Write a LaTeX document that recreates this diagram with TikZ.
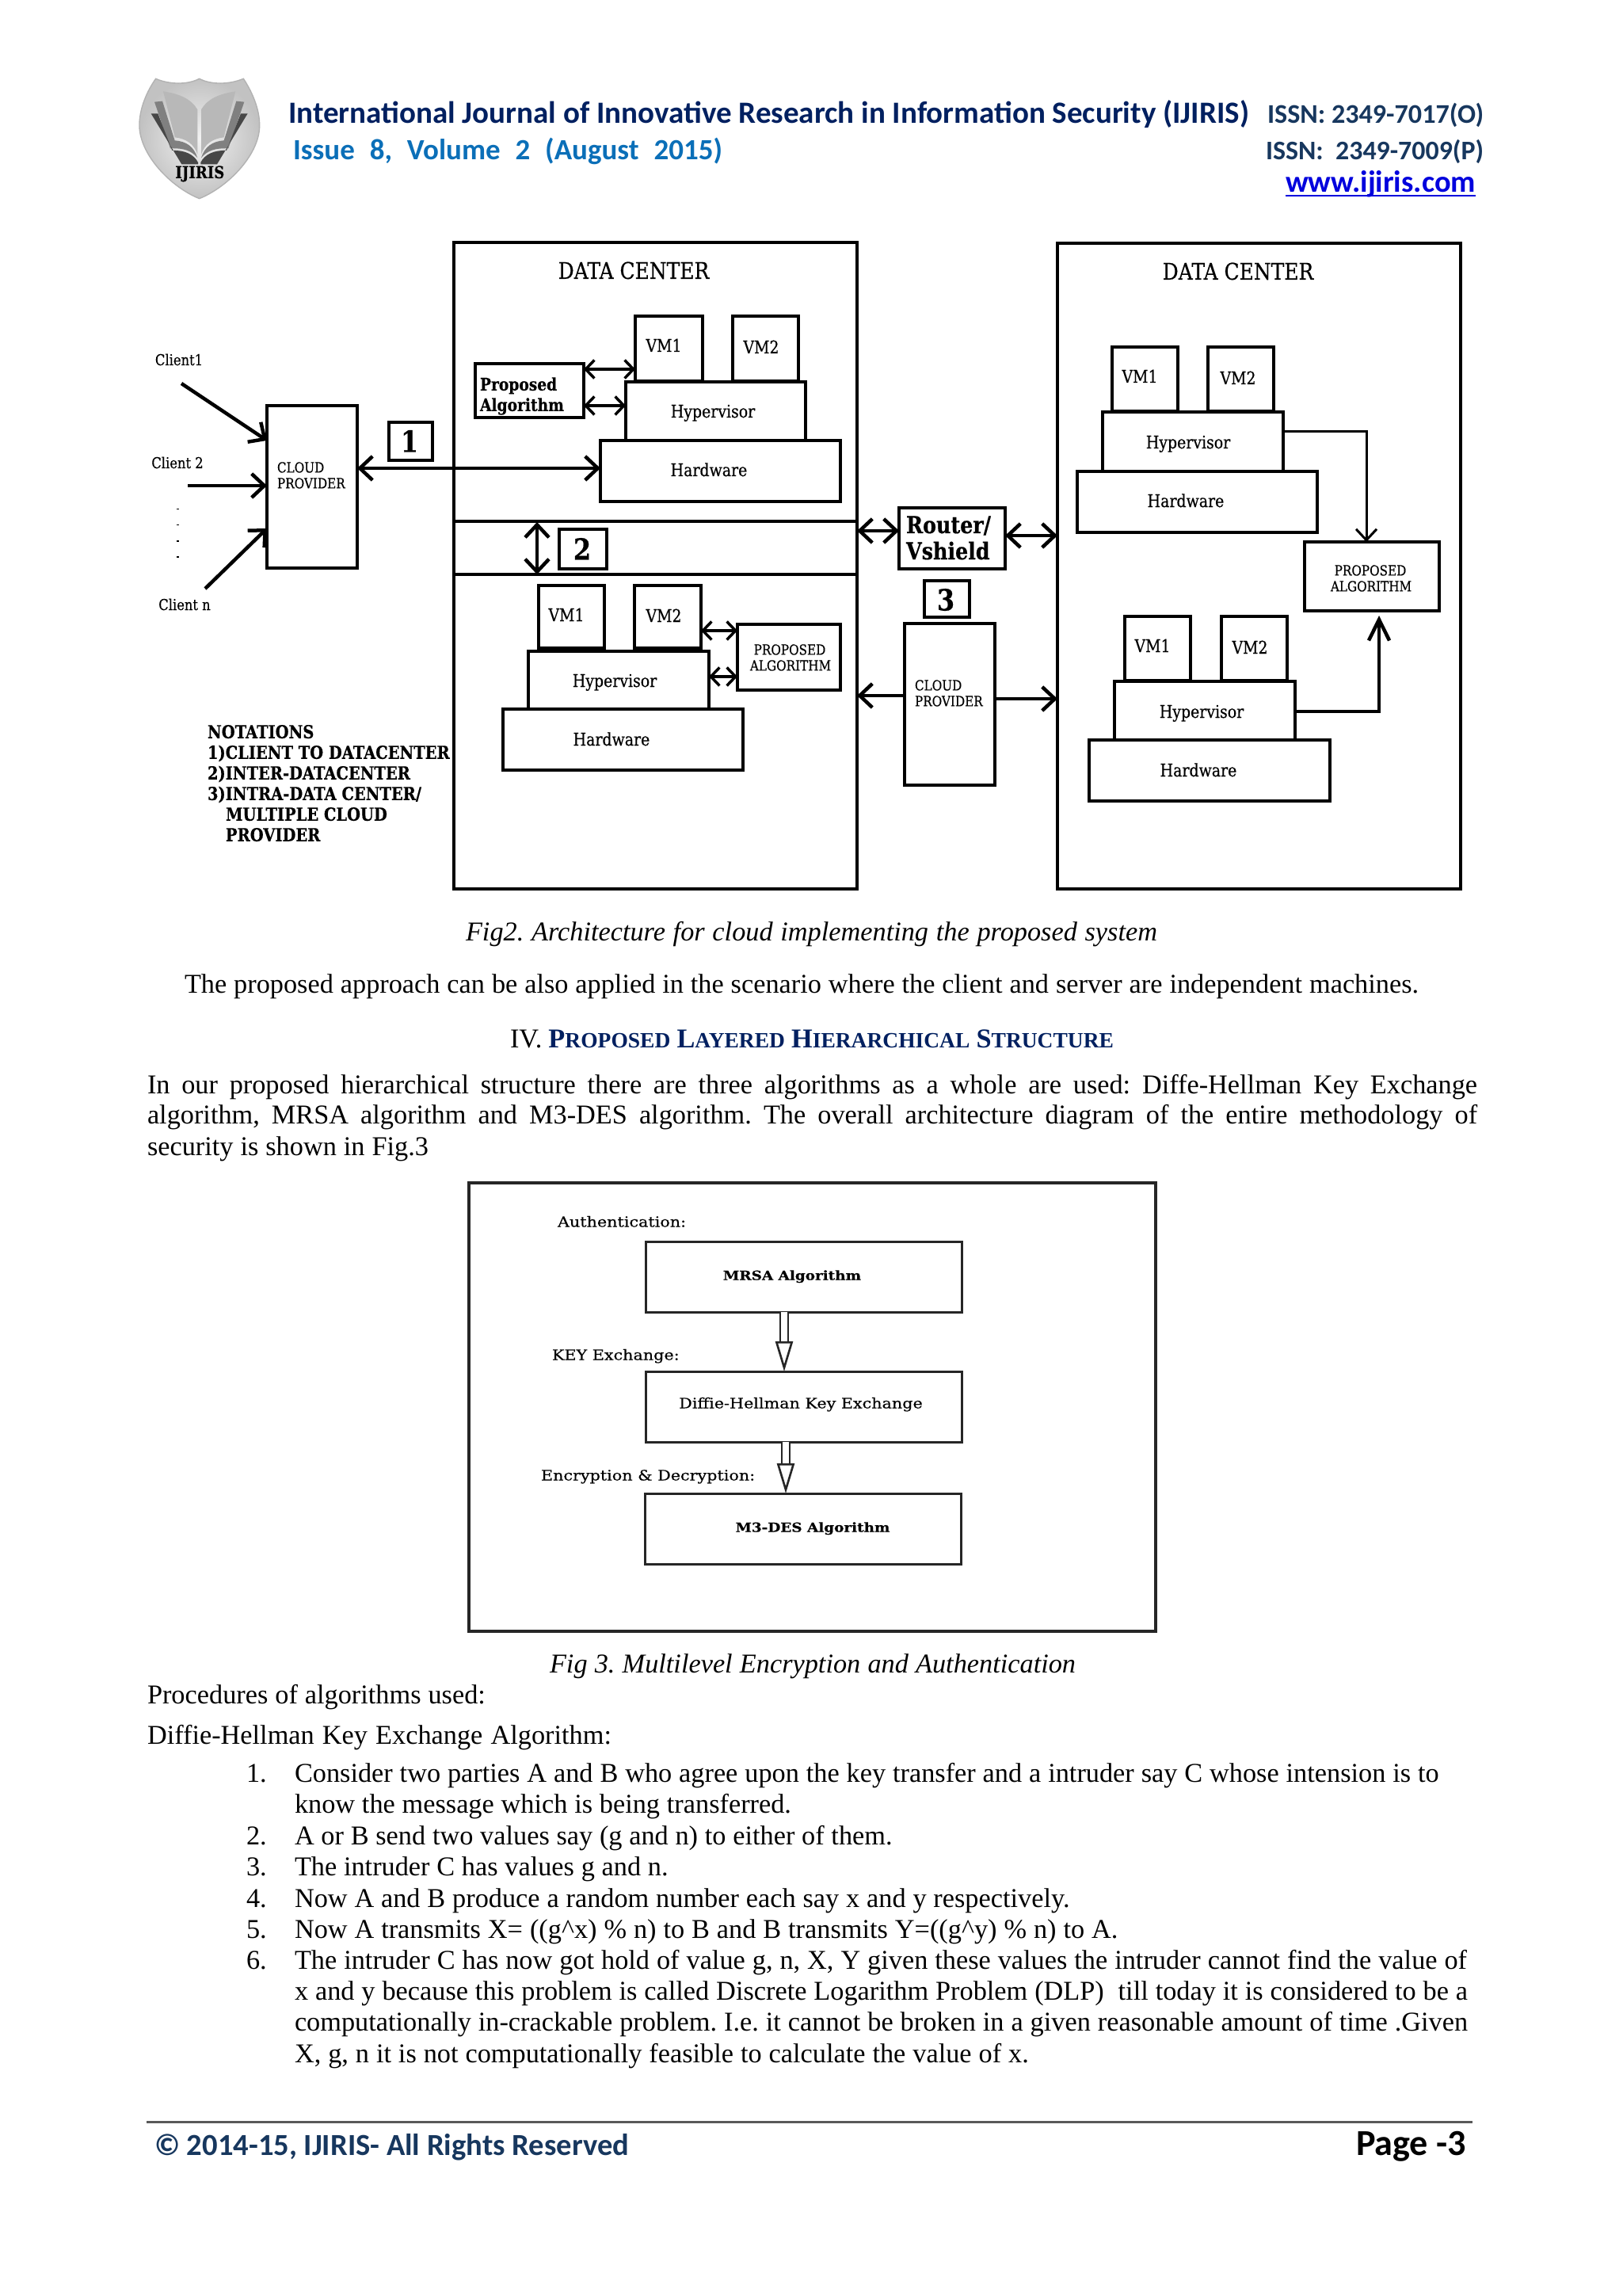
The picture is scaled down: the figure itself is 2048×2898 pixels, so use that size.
\documentclass[tikz,border=0pt]{standalone}
\usepackage{fontspec}
\usepackage{graphicx}
\usetikzlibrary{arrows.meta,calc}
\setmainfont{Liberation Serif}
\newfontfamily\slab[FakeStretch=0.86,FakeBold=0.4]{DejaVu Serif}
\newfontfamily\slabw[FakeStretch=1.15,FakeBold=0.4]{DejaVu Serif}
\newfontfamily\carl{Carlito}
\newlength\uu \setlength\uu{0.36pt}
\newcounter{tl}
\newcommand\fpx[1]{\fontsize{#1\uu}{#1\uu}\selectfont}
\definecolor{headnavy}{HTML}{002060}
\definecolor{issn}{HTML}{17375E}
\definecolor{issue}{HTML}{0B6FB8}
\definecolor{webblue}{HTML}{0000DD}
\tikzset{
  txt/.style={inner sep=0pt,outer sep=0pt,anchor=base west},
  bodyt/.style={txt,font=\frenchspacing\fpx{34.3}},
  boxa/.style={draw=black,line width=4\uu,minimum width=10pt,inner sep=0pt,outer sep=0pt,fill=white},
  boxb/.style={draw=black,line width=3.5\uu,inner sep=0pt,outer sep=0pt},
  figb/.style={draw=black!85,line width=3\uu,inner sep=0pt,outer sep=0pt},
  lab/.style={inner sep=0pt,outer sep=0pt,anchor=base,font=\slab\fpx{22},yshift=-8\uu},
  labt/.style={inner sep=0pt,outer sep=0pt,anchor=base,font=\slab\fpx{29},yshift=-10\uu},
  labcl/.style={inner sep=0pt,outer sep=0pt,anchor=base,font=\slab\fpx{19},yshift=-7\uu},
  labs/.style={inner sep=0pt,outer sep=0pt,anchor=base west,font=\slab\fpx{17.7},yshift=-6.4\uu},
  labc/.style={inner sep=0pt,outer sep=0pt,anchor=base,font=\slab\fpx{17.7},yshift=-6.4\uu},
  labb/.style={inner sep=0pt,outer sep=0pt,anchor=base west,font=\slab\bfseries\fpx{21.7},yshift=-7.8\uu},
  labn/.style={inner sep=0pt,outer sep=0pt,anchor=base west,font=\slab\bfseries\fpx{22.6},yshift=-7.8\uu},
  labr/.style={inner sep=0pt,outer sep=0pt,anchor=base west,font=\slab\bfseries\fpx{29.5},yshift=-10\uu},
  numb/.style={inner sep=0pt,outer sep=0pt,anchor=base,font=\slab\bfseries\fpx{37},yshift=-13.5\uu},
  labf/.style={inner sep=0pt,outer sep=0pt,anchor=base west,font=\slabw\fpx{18},yshift=-6.5\uu},
  big/.style={line width=4.5\uu,{Straight Barb[length=5.76pt,width=10.8pt]}-{Straight Barb[length=5.76pt,width=10.8pt]}},
  bigr/.style={line width=4.5\uu,-{Straight Barb[length=5.76pt,width=10.8pt]}},
  tallr/.style={line width=4.5\uu,-{Straight Barb[length=9.5pt,width=9.4pt]}},
  small/.style={line width=3.5\uu,{Straight Barb[length=3.96pt,width=8.28pt]}-{Straight Barb[length=3.96pt,width=8.28pt]}},
  thinr/.style={line width=3\uu,-{Straight Barb[length=5.04pt,width=9.36pt]}},
  openar/.style={line width=2.6\uu,draw=black!85,double,double distance=7.5\uu,-{Triangle[open,fill=white,length=13.68pt,width=7.92pt,line width=0.94pt]}},
}
\newcommand\bx[6]{\node[#1,minimum width={(#5-#3)*0.36pt},minimum height={(#6-#4)*0.36pt}] (#2) at ({(#3+#5)/2},{(#4+#6)/2}) {};}
\newcommand\tl[4]{\stepcounter{tl}\node[bodyt] (t\arabic{tl}) at (#1,#2+10) {\makebox[#3\uu][s]{#4}};}
\newcommand\smc[1]{{\fpx{27.5}#1}}
\begin{document}
\begin{tikzpicture}[x=0.36pt,y=-0.36pt]
\useasboundingbox (0,0) rectangle (2048,2898);
\fill[white] (0,0) rectangle (2048,2898);

% ---------- logo
\begin{scope}[shift={(170,90)},x=0.12pt,y=-0.12pt]
\path[draw=black!30,line width=0.5pt,inner color=black!5,outer color=black!24]
  (80,28) .. controls (130,50) and (200,52) .. (245,28) .. controls (290,52) and (360,50) .. (412,28)
  .. controls (440,70) and (475,140) .. (473,210) .. controls (470,320) and (350,440) .. (245,482)
  .. controls (140,440) and (22,320) .. (18,210) .. controls (16,140) and (50,70) .. (80,28) -- cycle;
\foreach \s/\o in {1/0,-1/490}{
\begin{scope}[shift={(\o,0)},xscale=\s]
 \fill[black!28] (108,76) .. controls (170,85) and (215,105) .. (238,145) -- (238,315) .. controls (225,275) and (195,255) .. (152,250) -- cycle;
 \fill[black!50] (75,116) -- (105,113) -- (152,262) .. controls (195,265) and (225,285) .. (238,328) .. controls (215,300) and (185,290) .. (135,292) -- cycle;
 \fill[black!72] (62,160) -- (88,160) -- (142,300) .. controls (190,298) and (225,315) .. (240,345) -- (240,352) -- (178,352) -- cycle;
\end{scope}}
\node[inner sep=0pt,font=\slab\bfseries\fpx{21}] (logotext) at (247,388) {IJIRIS};
\end{scope}

% ---------- header
\node[txt] (h1) at (364,156) {\resizebox{1213\uu}{!}{\carl\bfseries\color{headnavy}International Journal of Innovative Research in Information Security (IJIRIS)}};
\node[txt] (h2) at (370,202) {\color{issue}\carl\bfseries\fpx{37}\makebox[542\uu][s]{Issue\ \ 8,\ \ Volume\ \ 2\ \ (August\ \ 2015)}};
\node[txt] (h3) at (1600,156) {\resizebox{273\uu}{!}{\carl\bfseries\color{issn}ISSN: 2349-7017(O)}};
\node[txt] (h4) at (1598,202) {\resizebox{275\uu}{!}{\carl\bfseries\color{issn}ISSN:\ \ 2349-7009(P)}};
\node[txt] (h5) at (1623,243) {\resizebox{240\uu}{!}{\carl\bfseries\color{webblue}www.ijiris.com}};
\draw[webblue,line width=2.5\uu] (h5.west |- 0,247) -- (h5.east |- 0,247);

% ---------- figure 2: left
\bx{boxa}{dcl}{573}{306}{1082}{1122}
\draw[boxa,fill=none] (dcl.west |- 0,658) -- (dcl.east |- 0,658);
\draw[boxa,fill=none] (dcl.west |- 0,725) -- (dcl.east |- 0,725);
\node[labt] (dct1) at (800,342) {DATA CENTER};
\bx{boxb}{pa}{600}{459}{737}{527}
\bx{boxa}{avm1}{802}{399}{887}{481}
\bx{boxa}{avm2}{925}{399}{1008}{481}
\bx{boxa}{ahy}{790}{482}{1017}{557}
\bx{boxa}{ahw}{758}{556}{1061}{633}
\node[lab] (l1) at (838,436) {VM1};
\node[lab] (l2) at (961,438) {VM2};
\node[lab] (l3) at (900,519) {Hypervisor};
\node[lab] (l4) at (895,593) {Hardware};
\node[labb] (l5) at (606,485) {Proposed};
\node[labb] (l6) at (606,511) {Algorithm};
\bx{boxa}{bvm1}{680}{739}{763}{818}
\bx{boxa}{bvm2}{801}{739}{885}{818}
\bx{boxa}{bhy}{667}{822}{895}{896}
\bx{boxa}{bhw}{635}{895}{938}{972}
\bx{boxa}{bp}{931}{788}{1061}{871}
\node[lab] (l7) at (715,776) {VM1};
\node[lab] (l8) at (838,777) {VM2};
\node[lab] (l9) at (776,859) {Hypervisor};
\node[lab] (l10) at (772,933) {Hardware};
\node[labc] (l11) at (997,820) {PROPOSED};
\node[labc] (l12) at (998,840) {ALGORITHM};
% clients
\bx{boxa}{cp}{337}{512}{451}{717}
\node[labs] (l13) at (350,590) {CLOUD};
\node[labs] (l14) at (350,610) {PROVIDER};
\node[labcl] (c1) at (226,454) {Client1};
\node[labcl] (c2) at (224,584) {Client 2};
\node[labcl] (c3) at (233,763) {Client n};
\coordinate (c1s) at (229,484);
\coordinate (c2s) at (237,613);
\coordinate (c3s) at (259,743);
\draw[bigr] (c1s) -- (cp.west |- 0,556);
\draw[bigr] (c2s) -- (cp.west |- 0,613);
\draw[bigr] (c3s) -- (cp.west |- 0,667);
\foreach \y in {642,662,682,702} \fill[black] (223,\y) rectangle (226,\y+1.5);
\bx{boxa}{n1}{491}{533}{546}{581}
\bx{boxa}{n2}{706}{668}{766}{718}
\node[numb] (n1t) at (517,557) {1};
\node[numb] (n2t) at (735,693) {2};
\draw[big] (cp.east |- 0,591) -- (ahw.west |- 0,591);
\draw[big] (678,659) -- (678,725);
\draw[small] (pa.east |- 0,466) -- (avm1.west |- 0,466);
\draw[small] (pa.east |- 0,512) -- (ahy.west |- 0,512);
\draw[small] (bvm2.east |- 0,796) -- (bp.west |- 0,796);
\draw[small] (bhy.east |- 0,854) -- (bp.west |- 0,854);
% notations
\node[labn] (no1) at (262,924) {NOTATIONS};
\node[labn] (no2) at (262,950) {1)CLIENT TO DATACENTER};
\node[labn] (no3) at (262,976) {2)INTER-DATACENTER};
\node[labn] (no4) at (262,1002) {3)INTRA-DATA CENTER/};
\node[labn] (no5) at (285,1028) {MULTIPLE CLOUD};
\node[labn] (no6) at (285,1054) {PROVIDER};

% ---------- figure 2: middle
\bx{boxa}{ro}{1135}{641}{1269}{718}
\node[labr] (r1) at (1144,663) {Router/};
\node[labr] (r2) at (1144,696) {Vshield};
\bx{boxa}{n3}{1167}{733}{1224}{779}
\node[numb] (n3t) at (1194,757) {3};
\bx{boxa}{cq}{1142}{787}{1256}{991}
\node[labs] (l15) at (1155,865) {CLOUD};
\node[labs] (l16) at (1155,885) {PROVIDER};

% ---------- figure 2: right
\bx{boxa}{dcr}{1335}{307}{1844}{1122}
\node[labt] (dct2) at (1563,343) {DATA CENTER};
\bx{boxa}{cvm1}{1404}{438}{1487}{519}
\bx{boxa}{cvm2}{1525}{438}{1608}{519}
\bx{boxa}{chy}{1392}{520}{1620}{597}
\bx{boxa}{chw}{1360}{595}{1663}{672}
\node[lab] (l17) at (1439,475) {VM1};
\node[lab] (l18) at (1563,477) {VM2};
\node[lab] (l19) at (1500,558) {Hypervisor};
\node[lab] (l20) at (1497,632) {Hardware};
\bx{boxa}{rp}{1647}{684}{1817}{771}
\node[labc] (l21) at (1730,720) {PROPOSED};
\node[labc] (l22) at (1731,740) {ALGORITHM};
\bx{boxa}{dvm1}{1420}{778}{1503}{859}
\bx{boxa}{dvm2}{1542}{778}{1625}{859}
\bx{boxa}{dhy}{1407}{860}{1635}{936}
\bx{boxa}{dhw}{1375}{934}{1679}{1011}
\node[lab] (l23) at (1455,815) {VM1};
\node[lab] (l24) at (1578,817) {VM2};
\node[lab] (l25) at (1517,898) {Hypervisor};
\node[lab] (l26) at (1513,972) {Hardware};
\draw[thinr] (chy.east |- 0,545) -| (rp.north -| 1725,0);
\draw[tallr,shorten >=6\uu] (dhy.east |- 0,898) -| (rp.south -| 1741,0);
\draw[big] (dcl.east |- 0,670) -- (ro.west |- 0,670);
\draw[big] (ro.east |- 0,676) -- (dcr.west |- 0,676);
\draw[bigr] (cq.west |- 0,878) -- (dcl.east |- 0,878);
\draw[bigr] (cq.east |- 0,882) -- (dcr.west |- 0,882);

% ---------- text between figures
\tl{588}{1177}{873}{\itshape Fig2. Architecture for cloud implementing the proposed system}
\tl{233}{1243}{1558}{The proposed approach can be also applied in the scenario where the client and server are independent machines.}
\node[bodyt] (hd) at (644,1322) {\makebox[762\uu][s]{IV.\ {\color{headnavy}\bfseries P\smc{ROPOSED} L\smc{AYERED} H\smc{IERARCHICAL} S\smc{TRUCTURE}}}};
\tl{186}{1370}{1679}{In our proposed hierarchical structure there are three algorithms as a whole are used: Diffe-Hellman Key Exchange}
\tl{186}{1408}{1679}{algorithm, MRSA algorithm and M3-DES algorithm. The overall architecture diagram of the entire methodology of}
\tl{186}{1448}{355}{security is shown in Fig.3}

% ---------- figure 3
\bx{figb,line width=3.5\uu}{fo}{592}{1493}{1459}{2059}
\bx{figb}{f1}{815}{1567}{1214}{1656}
\bx{figb}{f2}{815}{1731}{1214}{1820}
\bx{figb}{f3}{814}{1885}{1213}{1974}
\node[labf] (f1l) at (704,1542) {Authentication:};
\node[labf] (f2l) at (697,1710) {KEY Exchange:};
\node[labf] (f3l) at (683,1862) {Encryption \& Decryption:};
\node[labf,anchor=base,font=\slabw\bfseries\fpx{16}] (f1t) at (1000,1609) {MRSA Algorithm};
\node[labf,anchor=base] (f2t) at (1011,1771) {Diffie-Hellman Key Exchange};
\node[labf,anchor=base,font=\slabw\bfseries\fpx{16}] (f3t) at (1026,1927) {M3-DES Algorithm};
\draw[openar] (f1.south -| 990,0) -- (f2.north -| 990,0);
\draw[openar] (f2.south -| 992,0) -- (f3.north -| 992,0);

% ---------- text below
\tl{694}{2101}{664}{\itshape Fig 3. Multilevel Encryption and Authentication}
\tl{186}{2140}{427}{Procedures of algorithms used:}
\tl{186}{2191}{586}{Diffie-Hellman Key Exchange Algorithm:}
\tl{311}{2239}{25}{1.}
\tl{372}{2239}{1444.7}{Consider two parties A and B who agree upon the key transfer and a intruder say C whose intension is to}
\tl{372}{2278}{627}{know the message which is being transferred.}
\tl{311}{2318}{25}{2.}
\tl{372}{2318}{754.6}{A or B send two values say (g and n) to either of them.}
\tl{311}{2357}{25}{3.}
\tl{372}{2357}{471.6}{The intruder C has values g and n.}
\tl{311}{2397}{25}{4.}
\tl{372}{2397}{978.5}{Now A and B produce a random number each say x and y respectively.}
\tl{311}{2436}{25}{5.}
\tl{372}{2436}{1039.5}{Now A transmits X= ((g\textasciicircum x) \% n) to B and B transmits Y=((g\textasciicircum y) \% n) to A.}
\tl{311}{2475}{25}{6.}
\tl{372}{2475}{1480}{The intruder C has now got hold of value g, n, X, Y given these values the intruder cannot find the value of}
\tl{372}{2514}{1481}{x and y because this problem is called Discrete Logarithm Problem (DLP)\ \ till today it is considered to be a}
\tl{372}{2553}{1481}{computationally in-crackable problem. I.e. it cannot be broken in a given reasonable amount of time .Given}
\tl{372}{2593.6}{926.7}{X, g, n it is not computationally feasible to calculate the value of x.}

% ---------- footer
\draw[black!65,line width=3\uu] (185,2678) -- (1859,2678);
\node[txt] (fa) at (195,2720) {\resizebox{599\uu}{!}{\carl\bfseries\color{issn}\textcopyright\ 2014-15, IJIRIS- All Rights Reserved}};
\node[txt] (fb) at (1712,2720) {\resizebox{139\uu}{!}{\carl\bfseries Page -3}};
\end{tikzpicture}
\end{document}
